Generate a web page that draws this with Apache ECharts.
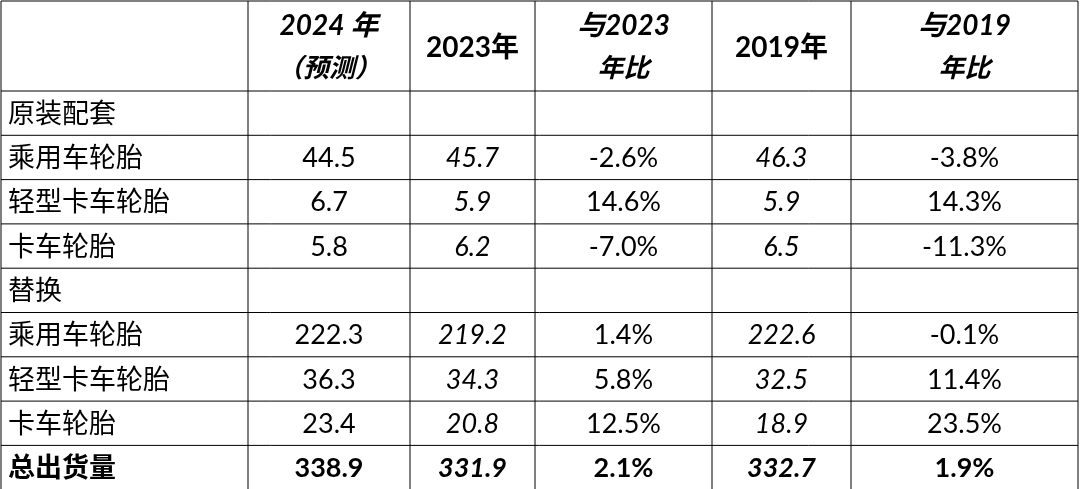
<!DOCTYPE html>
<html><head><meta charset="utf-8">
<script src="https://cdn.jsdelivr.net/npm/echarts@6/dist/echarts.min.js"></script>
<style>html,body{margin:0;background:#fff}#c{width:1080px;height:489px}</style>
</head><body><div id="c"></div>
<script>
// 表头与数据
var headers = [['', ''], ['2024 年', '（预测）'], ['2023年', ''], ['与2023', '年比'], ['2019年', ''], ['与2019', '年比']];
var headerItalic = [false, true, false, true, false, true];
var rowLabels = ['原装配套', '乘用车轮胎', '轻型卡车轮胎', '卡车轮胎', '替换', '乘用车轮胎', '轻型卡车轮胎', '卡车轮胎', '总出货量'];
var val2024 = ['', '44.5', '6.7', '5.8', '', '222.3', '36.3', '23.4', '338.9'];
var val2023 = ['', '45.7', '5.9', '6.2', '', '219.2', '34.3', '20.8', '331.9'];
var chg2023 = ['', '-2.6%', '14.6%', '-7.0%', '', '1.4%', '5.8%', '12.5%', '2.1%'];
var val2019 = ['', '46.3', '5.9', '6.5', '', '222.6', '32.5', '18.9', '332.7'];
var chg2019 = ['', '-3.8%', '14.3%', '-11.3%', '', '-0.1%', '11.4%', '23.5%', '1.9%'];

(function () {
  var colX = [1, 248, 410, 535, 712, 851, 1078];
  var headH = 90, rowH = 44.3, tableTop = 1;
  var font = '"Lato","Noto Sans CJK SC",sans-serif';
  var els = [];
  function line(x1, y1, x2, y2) {
    els.push({type: 'line', shape: {x1: x1, y1: y1, x2: x2, y2: y2}, style: {stroke: '#000', lineWidth: 1}});
  }
  function text(t, x, y, align, size, bold, italic) {
    els.push({type: 'text', x: x, y: y, style: {text: t, align: align, verticalAlign: 'middle',
      font: (italic ? 'italic ' : '') + (bold ? 'bold ' : '') + size + 'px ' + font, fill: '#000'}});
  }
  var bottom = tableTop + headH + rowH * rowLabels.length;
  for (var i = 0; i < colX.length; i++) line(colX[i], tableTop, colX[i], bottom);
  line(colX[0], tableTop, colX[6], tableTop);
  for (var r = 0; r <= rowLabels.length; r++) line(colX[0], tableTop + headH + r * rowH, colX[6], tableTop + headH + r * rowH);
  for (var c = 1; c < headers.length; c++) {
    var cx = (colX[c] + colX[c + 1]) / 2;
    if (headers[c][1]) {
      text(headers[c][0], cx, tableTop + 25, 'center', 28, true, headerItalic[c]);
      text(headers[c][1], cx, tableTop + 68, 'center', 26, true, headerItalic[c]);
    } else {
      text(headers[c][0], cx, tableTop + 47, 'center', 28, true, false);
    }
  }
  var cols = [val2024, val2023, chg2023, val2019, chg2019];
  rowLabels.forEach(function (lab, r) {
    var cy = tableTop + headH + r * rowH + rowH / 2 + 1;
    var last = r === rowLabels.length - 1;
    text(lab, 8, cy, 'left', 27, last, false);
    cols.forEach(function (arr, k) {
      if (!arr[r]) return;
      var cx = (colX[k + 1] + colX[k + 2]) / 2;
      text(arr[r], cx, cy, 'center', 27, last, k === 1 || k === 3);
    });
  });
  var chart = echarts.init(document.getElementById('c'));
  chart.setOption({animation: false, graphic: {elements: els}});
})();
</script></body></html>
